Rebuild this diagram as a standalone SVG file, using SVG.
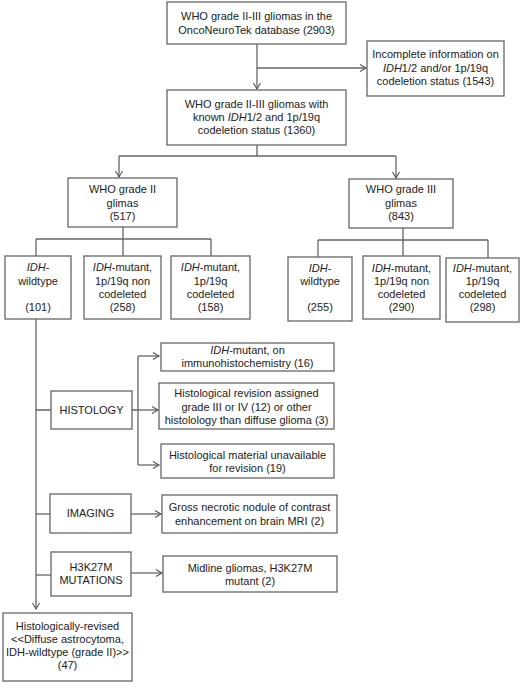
<svg xmlns="http://www.w3.org/2000/svg" width="520" height="682" viewBox="0 0 520 682">
<defs>
<marker id="arr" markerUnits="userSpaceOnUse" markerWidth="10" markerHeight="10" refX="7" refY="4" orient="auto">
<path d="M1,0.5 L7,4 L1,7.5" fill="none" stroke="#555" stroke-width="1.1"/>
</marker>
<style>
.b{fill:#fff;stroke:#666;stroke-width:1.3}
.t{font-family:"Liberation Sans",Arial,sans-serif;font-size:11px;fill:#222;text-anchor:middle}
.c{fill:none;stroke:#666;stroke-width:1.3}
.a{fill:none;stroke:#666;stroke-width:1.3;marker-end:url(#arr)}
.i{font-style:italic}
</style>
</defs>
<rect width="520" height="682" fill="#fff"/>
<g id="connectors">
<path class="a" d="M257,44 V89"/>
<path class="a" d="M257,68 H366"/>
<path class="c" d="M257,145 V156 M119,156 H396"/>
<path class="a" d="M119,156 V177"/>
<path class="a" d="M396,156 V178"/>
<path class="c" d="M123,227 V239 M36,239 H211"/>
<path class="c" d="M36,239 V256 M123,239 V256 M211,239 V256"/>
<path class="c" d="M403,228 V240 M318,240 H488"/>
<path class="c" d="M318,240 V257 M403,240 V256 M488,240 V258"/>
<path class="a" d="M36,319 V609"/>
<path class="c" d="M36,410 H51 M132,410 H138 M138,356 V465"/>
<path class="a" d="M138,356 H159"/>
<path class="a" d="M138,410 H158"/>
<path class="a" d="M138,465 H159"/>
<path class="c" d="M36,514 H50"/>
<path class="a" d="M131,514 H161"/>
<path class="c" d="M36,575 H51"/>
<path class="a" d="M131,573 H162"/>
</g>
<g id="n-all">
<rect class="b" x="167" y="2" width="179" height="42"/>
<text class="t" x="256.5" y="20">WHO grade II-III gliomas in the</text>
<text class="t" x="256.5" y="34">OncoNeuroTek database (2903)</text>
</g>
<g id="n-incomplete">
<rect class="b" x="367" y="41" width="137" height="55"/>
<text class="t" x="435.5" y="58">Incomplete information on</text>
<text class="t" x="435.5" y="72"><tspan class="i">IDH</tspan>1/2 and/or 1p/19q</text>
<text class="t" x="435.5" y="85">codeletion status (1543)</text>
</g>
<g id="n-known">
<rect class="b" x="167" y="90" width="179" height="55"/>
<text class="t" x="256.5" y="108">WHO grade II-III gliomas with</text>
<text class="t" x="256.5" y="121">known <tspan class="i">IDH</tspan>1/2 and 1p/19q</text>
<text class="t" x="256.5" y="133.5">codeletion status (1360)</text>
</g>
<g id="n-g2">
<rect class="b" x="68" y="178" width="109" height="49"/>
<text class="t" x="122.5" y="193">WHO grade II</text>
<text class="t" x="122.5" y="207">glimas</text>
<text class="t" x="122.5" y="220">(517)</text>
</g>
<g id="n-g3">
<rect class="b" x="349" y="179" width="104" height="49"/>
<text class="t" x="401" y="193">WHO grade III</text>
<text class="t" x="401" y="207">glimas</text>
<text class="t" x="401" y="220">(843)</text>
</g>
<g id="n-g2-wt">
<rect class="b" x="5" y="256" width="66" height="63"/>
<text class="t" x="38" y="271"><tspan class="i">IDH</tspan>-</text>
<text class="t" x="38" y="285">wildtype</text>
<text class="t" x="38" y="311">(101)</text>
</g>
<g id="n-g2-nc">
<rect class="b" x="84" y="256" width="77" height="63"/>
<text class="t" x="122.5" y="271"><tspan class="i">IDH</tspan>-mutant,</text>
<text class="t" x="122.5" y="285">1p/19q non</text>
<text class="t" x="122.5" y="298">codeleted</text>
<text class="t" x="122.5" y="311">(258)</text>
</g>
<g id="n-g2-cd">
<rect class="b" x="171" y="256" width="79" height="63"/>
<text class="t" x="210.5" y="271"><tspan class="i">IDH</tspan>-mutant,</text>
<text class="t" x="210.5" y="285">1p/19q</text>
<text class="t" x="210.5" y="298">codeleted</text>
<text class="t" x="210.5" y="311">(158)</text>
</g>
<g id="n-g3-wt">
<rect class="b" x="288" y="257" width="64" height="64"/>
<text class="t" x="320" y="272"><tspan class="i">IDH</tspan>-</text>
<text class="t" x="320" y="285">wildtype</text>
<text class="t" x="320" y="311">(255)</text>
</g>
<g id="n-g3-nc">
<rect class="b" x="363" y="256" width="77" height="63"/>
<text class="t" x="401.5" y="272"><tspan class="i">IDH</tspan>-mutant,</text>
<text class="t" x="401.5" y="285">1p/19q non</text>
<text class="t" x="401.5" y="298">codeleted</text>
<text class="t" x="401.5" y="311">(290)</text>
</g>
<g id="n-g3-cd">
<rect class="b" x="446" y="258" width="73" height="64"/>
<text class="t" x="482.5" y="272"><tspan class="i">IDH</tspan>-mutant,</text>
<text class="t" x="482.5" y="285">1p/19q</text>
<text class="t" x="482.5" y="298">codeleted</text>
<text class="t" x="482.5" y="311">(298)</text>
</g>
<g id="n-histology">
<rect class="b" x="51" y="391" width="81" height="38"/>
<text class="t" x="91.5" y="414">HISTOLOGY</text>
</g>
<g id="n-immuno">
<rect class="b" x="161" y="343" width="173" height="28"/>
<text class="t" x="247.5" y="354"><tspan class="i">IDH</tspan>-mutant, on</text>
<text class="t" x="247.5" y="367">immunohistochemistry (16)</text>
</g>
<g id="n-revision">
<rect class="b" x="159" y="383" width="175" height="46"/>
<text class="t" x="246.5" y="397">Histological revision assigned</text>
<text class="t" x="246.5" y="411">grade III or IV (12) or other</text>
<text class="t" x="246.5" y="424">histolology than diffuse glioma (3)</text>
</g>
<g id="n-material">
<rect class="b" x="161" y="444" width="173" height="34"/>
<text class="t" x="247.5" y="459">Histological material unavailable</text>
<text class="t" x="247.5" y="472">for revision (19)</text>
</g>
<g id="n-imaging">
<rect class="b" x="50" y="494" width="81" height="39"/>
<text class="t" x="90.5" y="517">IMAGING</text>
</g>
<g id="n-necrotic">
<rect class="b" x="162" y="495" width="175" height="38"/>
<text class="t" x="249.5" y="511">Gross necrotic nodule of contrast</text>
<text class="t" x="249.5" y="525">enhancement on brain MRI (2)</text>
</g>
<g id="n-h3k27m">
<rect class="b" x="51" y="552" width="80" height="44"/>
<text class="t" x="91" y="571">H3K27M</text>
<text class="t" x="91" y="584">MUTATIONS</text>
</g>
<g id="n-midline">
<rect class="b" x="163" y="556" width="174" height="36"/>
<text class="t" x="250" y="572">Midline gliomas, H3K27M</text>
<text class="t" x="250" y="585">mutant (2)</text>
</g>
<g id="n-final">
<rect class="b" x="3" y="613" width="129" height="68"/>
<text class="t" x="67.5" y="630">Histologically-revised</text>
<text class="t" x="67.5" y="643">&lt;&lt;Diffuse astrocytoma,</text>
<text class="t" x="67.5" y="656">IDH-wildtype (grade II)&gt;&gt;</text>
<text class="t" x="67.5" y="668.5">(47)</text>
</g>
</svg>
